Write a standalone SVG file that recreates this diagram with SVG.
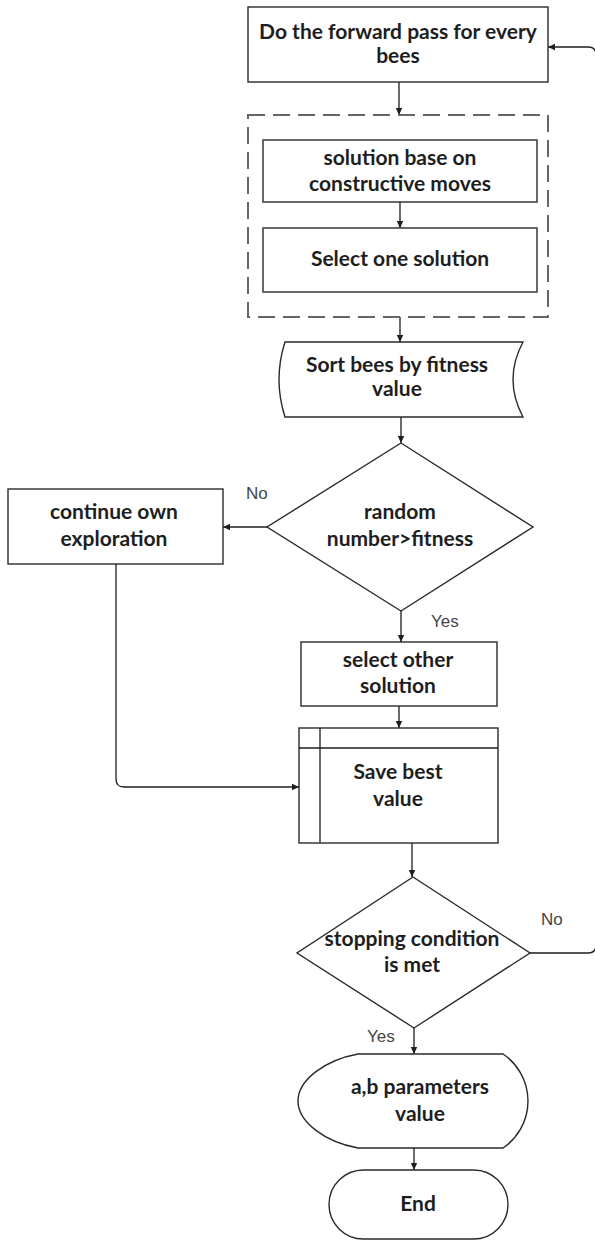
<svg xmlns="http://www.w3.org/2000/svg" width="595" height="1241" viewBox="0 0 595 1241">
<style>
.box{fill:#fff;stroke:#2a2a2a;stroke-width:1.4}
.t{font-family:Lato,"Liberation Sans",sans-serif;font-weight:bold;font-size:21px;fill:#1e1e1e;text-anchor:middle}
.lbl{font-family:"Liberation Sans",Arial,sans-serif;font-size:17px;fill:#444}
.c{fill:none;stroke:#1e1e1e;stroke-width:1.3}
</style>
<defs>
<marker id="ah" markerWidth="8" markerHeight="8" refX="7" refY="4" orient="auto" markerUnits="userSpaceOnUse">
<path d="M0,0.8 L7,4 L0,7.2 Z" fill="#1e1e1e"/>
</marker>
</defs>
<rect width="595" height="1241" fill="#fff"/>
<g id="connectors">
<path class="c" d="M399,82 V115" marker-end="url(#ah)"/>
<path class="c" d="M400,202 V228" marker-end="url(#ah)"/>
<path class="c" d="M400,317 V342" marker-end="url(#ah)"/>
<path class="c" d="M401,417 V443" marker-end="url(#ah)"/>
<path class="c" d="M267,527 H223" marker-end="url(#ah)"/>
<path class="c" d="M401,611 V642" marker-end="url(#ah)"/>
<path class="c" d="M399,706 V728" marker-end="url(#ah)"/>
<path class="c" d="M116,564 V779 Q116,787 124,787 H299" marker-end="url(#ah)"/>
<path class="c" d="M412,843 V877" marker-end="url(#ah)"/>
<path class="c" d="M530,953 H588 Q596,953 596,945 V55 Q596,47 588,47 H548" marker-end="url(#ah)"/>
<path class="c" d="M414,1028 V1054" marker-end="url(#ah)"/>
<path class="c" d="M414,1148 V1170" marker-end="url(#ah)"/>
<text class="lbl" x="246" y="499">No</text>
<text class="lbl" x="431" y="627">Yes</text>
<text class="lbl" x="541" y="925">No</text>
<text class="lbl" x="367" y="1042">Yes</text>
</g>
<g id="forward">
<rect class="box" x="248" y="7" width="300" height="75"/>
<text class="t" x="398" y="39">Do the forward pass for every</text>
<text class="t" x="398" y="63">bees</text>
</g>
<g id="group">
<rect x="248" y="115" width="300" height="202" fill="none" stroke="#666" stroke-width="2" stroke-dasharray="17 8"/>
</g>
<g id="constructive">
<rect class="box" x="263" y="140" width="274" height="62"/>
<text class="t" x="400" y="165">solution base on</text>
<text class="t" x="400" y="191">constructive moves</text>
</g>
<g id="selectone">
<rect class="box" x="263" y="228" width="274" height="64"/>
<text class="t" x="400" y="266">Select one solution</text>
</g>
<g id="sort">
<path class="box" d="M285,342 H523 Q503,379.5 523,417 H285 Q273,379.5 285,342 Z"/>
<text class="t" x="397" y="372">Sort bees by fitness</text>
<text class="t" x="397" y="396">value</text>
</g>
<g id="decision1">
<path class="box" d="M401,443 L533,527 L401,611 L267,527 Z"/>
<text class="t" x="400" y="519">random</text>
<text class="t" x="400" y="546">number&gt;fitness</text>
</g>
<g id="continue">
<rect class="box" x="8" y="489" width="215" height="75"/>
<text class="t" x="114" y="519">continue own</text>
<text class="t" x="114" y="546">exploration</text>
</g>
<g id="selectother">
<rect class="box" x="301" y="642" width="196" height="64"/>
<text class="t" x="398" y="667">select other</text>
<text class="t" x="398" y="693">solution</text>
</g>
<g id="savebest">
<rect class="box" x="299" y="728" width="199" height="115"/>
<path class="c" d="M320,728 V843 M299,748 H498"/>
<text class="t" x="398" y="779">Save best</text>
<text class="t" x="398" y="806">value</text>
</g>
<g id="decision2">
<path class="box" d="M413,877 L530,953 L414,1028 L297,953 Z"/>
<text class="t" x="412" y="946">stopping condition</text>
<text class="t" x="412" y="972">is met</text>
</g>
<g id="params">
<path class="box" d="M358,1054 H503 A56.7,56.7 0 0 1 503,1148 H358 C325,1142 298,1122 298,1101 C298,1080 325,1060 358,1054 Z"/>
<text class="t" x="420" y="1094">a,b parameters</text>
<text class="t" x="420" y="1121">value</text>
</g>
<g id="end">
<rect class="box" x="329" y="1170" width="179" height="69" rx="34.5" ry="34.5"/>
<text class="t" x="418" y="1211">End</text>
</g>
</svg>
